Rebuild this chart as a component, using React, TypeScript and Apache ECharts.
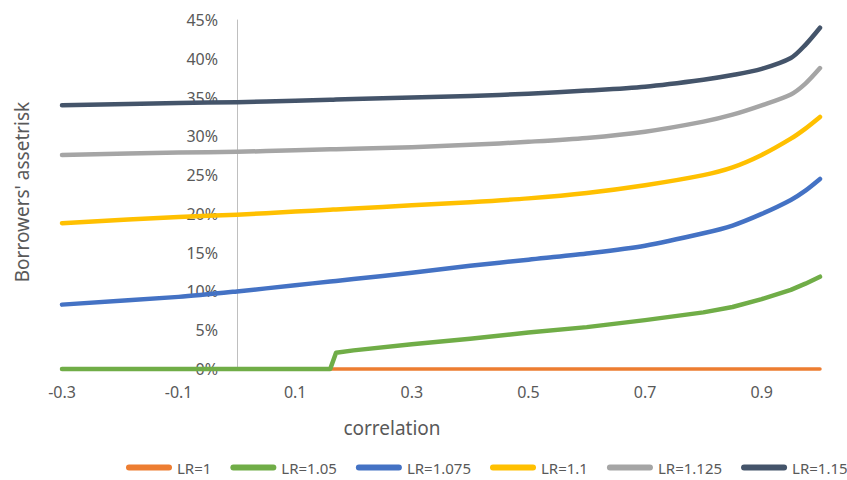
import React, { useEffect, useRef } from "react";
import * as echarts from "echarts";

const xValues = [-0.3, -0.1, 0, 0.1, 0.16, 0.17, 0.2, 0.3, 0.4, 0.5, 0.6, 0.7, 0.8, 0.85, 0.9, 0.95, 0.975, 1.0];

const seriesNames = ["LR=1", "LR=1.05", "LR=1.075", "LR=1.1", "LR=1.125", "LR=1.15"];
const seriesColors = ["#ED7D31", "#70AD47", "#4472C4", "#FFC000", "#A5A5A5", "#44546A"];

const lr100 = [0, 0, 0, 0, 0, 0, 0, 0, 0, 0, 0, 0, 0, 0, 0, 0, 0, 0];
const lr105 = [0, 0, 0, 0, 0, 2.1, 2.4, 3.2, 3.9, 4.7, 5.4, 6.3, 7.3, 8.0, 9.0, 10.2, 11.0, 11.9];
const lr1075 = [8.3, 9.3, 10.0, 10.8, 11.28, 11.36, 11.6, 12.4, 13.3, 14.1, 14.9, 15.9, 17.5, 18.5, 20.0, 21.8, 23.0, 24.5];
const lr110 = [18.8, 19.6, 19.9, 20.3, 20.54, 20.58, 20.7, 21.1, 21.5, 22.0, 22.7, 23.7, 25.0, 26.0, 27.6, 29.7, 31.0, 32.5];
const lr1125 = [27.6, 27.9, 28.0, 28.2, 28.32, 28.34, 28.4, 28.6, 28.9, 29.3, 29.8, 30.6, 31.9, 32.8, 34.0, 35.4, 36.8, 38.8];
const lr115 = [34.0, 34.3, 34.4, 34.6, 34.72, 34.74, 34.8, 35.0, 35.2, 35.5, 35.9, 36.4, 37.3, 37.9, 38.7, 40.1, 41.8, 44.0];

const seriesValues = [lr100, lr105, lr1075, lr110, lr1125, lr115];

const yTickMax = 45;
const yTickStep = 5;
const xMin = -0.3;
const xMax = 1.0;
const xStep = 0.2;

const FONT = "'Noto Sans', sans-serif";
const TEXT_COLOR = "#595959";

export default function App() {
  const ref = useRef<HTMLDivElement>(null);

  useEffect(() => {
    if (!ref.current) return;
    const chart = echarts.init(ref.current, undefined, { renderer: "svg" });
    const pill = "path://M3,0 H43 A3,3 0 0 1 43,6 H3 A3,3 0 0 1 3,0 Z";
    chart.setOption({
      animation: false,
      textStyle: { fontFamily: FONT },
      grid: { left: 62, right: 27, top: 20, bottom: 111, containLabel: false },
      legend: {
        top: 455,
        left: 121,
        width: 726,
        itemWidth: 46,
        itemHeight: 6,
        itemGap: 19,
        textStyle: { color: TEXT_COLOR, fontSize: 15, fontFamily: FONT },
        data: seriesNames.map((n) => ({ name: n, icon: pill })),
      },
      xAxis: {
        type: "value",
        min: xMin,
        max: xMax,
        interval: xStep,
        axisLine: { show: true, lineStyle: { color: "#D9D9D9" } },
        axisTick: { show: false },
        splitLine: { show: false },
        axisLabel: {
          color: TEXT_COLOR,
          fontSize: 16,
          fontFamily: FONT,
          margin: 15,
          showMaxLabel: false,
          formatter: (v: number) => (v > 0.95 ? "" : (Math.round(v * 10) / 10).toFixed(1)),
        },
      },
      yAxis: {
        type: "value",
        min: 0,
        max: yTickMax,
        interval: yTickStep,
        axisLine: { show: true, onZero: true, lineStyle: { color: "#BFBFBF" } },
        axisTick: { show: false },
        splitLine: { show: false },
        axisLabel: {
          color: TEXT_COLOR,
          fontSize: 16,
          fontFamily: FONT,
          margin: -156,
          align: "right",
          formatter: (v: number) => `${v}%`,
        },
      },
      graphic: [
        {
          type: "text",
          x: 392,
          y: 428,
          style: {
            text: "correlation",
            fill: TEXT_COLOR,
            font: `19px ${FONT}`,
            align: "center",
            verticalAlign: "middle",
          },
        },
        {
          type: "text",
          x: 22,
          y: 192,
          rotation: Math.PI / 2,
          style: {
            text: "Borrowers' assetrisk",
            fill: TEXT_COLOR,
            font: `19px ${FONT}`,
            align: "center",
            verticalAlign: "middle",
          },
        },
      ],
      series: seriesNames.map((name, i) => ({
        name,
        type: "line",
        data: xValues.map((x, j) => [x, seriesValues[i][j]]),
        showSymbol: false,
        symbol: "none",
        smooth: i === 1 || i === 0 ? false : 0.3,
        color: seriesColors[i],
        lineStyle: { color: seriesColors[i], width: i === 0 ? 3.5 : 4.5, cap: "round", join: "round" },
        clip: false,
      })),
    });
    return () => chart.dispose();
  }, []);

  return <div ref={ref} style={{ position: "absolute", left: 0, top: 0, width: 847, height: 480 }} />;
}
